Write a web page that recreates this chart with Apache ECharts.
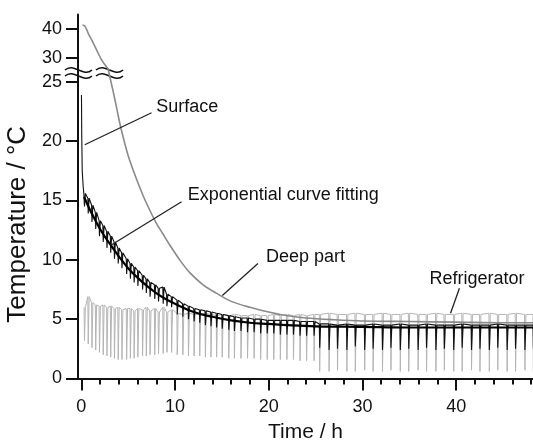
<!DOCTYPE html>
<html>
<head>
<meta charset="utf-8">
<script src="https://cdn.jsdelivr.net/npm/echarts@6/dist/echarts.min.js"></script>
<style>
  html, body { margin: 0; padding: 0; background: #fff; }
  #chart { width: 533px; height: 440px; }
</style>
</head>
<body>
<div id="chart"></div>
<script>
// Deep part (gray) – shown in both the upper (compressed) and lower panel
const deepTime = [0.13, 0.35, 0.6, 0.8, 1.1, 1.44, 1.8, 2.15, 2.6, 3.0, 3.4, 3.8, 4.2, 5.0, 5.8, 6.6, 7.3, 8.0, 8.7, 9.4, 10.5, 11.6, 13.0, 14.4, 16.0, 18.0, 20.0, 21.5, 24.0, 27.0, 30.0, 35.0, 40.0, 45.0, 48.2]
const deepTemp = [41.4, 41.1, 39.6, 38.0, 36.3, 34.0, 31.6, 29.3, 27.2, 25.6, 24.2, 22.7, 21.2, 18.8, 17.0, 15.4, 14.2, 13.1, 12.2, 11.3, 10.0, 8.9, 7.9, 7.2, 6.5, 6.0, 5.6, 5.35, 5.1, 4.95, 4.85, 4.8, 4.75, 4.7, 4.7]

// Exponential curve fitting (black, smooth)
const fitTime = [0.3, 1, 2, 3, 4, 5, 6, 7, 8, 9, 10, 12, 14, 16, 18, 20, 22, 25, 30, 35, 40, 48.2]
const fitTemp = [15.3, 14.1, 12.6, 11.4, 10.3, 9.3, 8.5, 7.8, 7.2, 6.7, 6.3, 5.6, 5.2, 4.9, 4.7, 4.6, 4.5, 4.4, 4.35, 4.3, 4.3, 4.3]

// Surface: initial drop right after loading
const surfStartTime = [0.02, 0.05, 0.1, 0.2, 0.27]
const surfStartTemp = [23.9, 20.5, 17.5, 16.2, 15.6]

// refrigerator cycles (time of each dip) and the levels read per cycle
const cycleTime = [
  0.3, 0.7, 1.1, 1.5, 1.9, 2.3, 2.7, 3.1, 3.5, 3.9, 4.3, 4.8, 5.2, 5.6, 6.0, 6.5, 6.9, 7.3, 7.8, 8.2, 8.7, 9.1, 9.6,
  10.2, 10.8, 11.4, 12.0, 12.6, 13.2, 13.8, 14.4, 15.0, 15.7, 16.3, 17.0, 17.7, 18.4, 19.1, 19.8, 20.5, 21.2, 21.9, 22.6, 23.3, 24.0, 24.8,
  25.4, 26.4, 27.3, 28.3, 29.2, 30.2, 31.1, 32.1, 33.0, 34.0, 34.9, 35.9, 36.8, 37.8, 38.7, 39.7, 40.6, 41.6, 42.5, 43.5, 44.4, 45.4, 46.3, 47.3, 48.2
]
const refrigHigh = [
  6.0, 6.9, 6.4, 6.2, 6.1, 6.2, 6.0, 6.1, 5.9, 6.0, 5.8, 5.9, 5.9, 5.7, 5.9, 5.8, 6.0, 5.7, 5.9, 5.6, 6.0, 5.6, 5.8,
  5.5, 5.4, 5.5, 5.4, 5.4, 5.5, 5.4, 5.3, 5.4, 5.3, 5.4, 5.3, 5.3, 5.4, 5.3, 5.3, 5.4, 5.3, 5.4, 5.3, 5.4, 5.3, 5.4,
  5.4, 5.5, 5.4, 5.4, 5.5, 5.4, 5.4, 5.5, 5.4, 5.4, 5.5, 5.4, 5.4, 5.5, 5.4, 5.4, 5.5, 5.4, 5.4, 5.5, 5.4, 5.4, 5.5, 5.4, 5.4
]
const refrigLow = [
  3.2, 2.9, 2.6, 2.4, 2.2, 2.0, 1.9, 1.8, 1.7, 1.6, 1.6, 1.6, 1.7, 1.7, 1.8, 1.9, 1.9, 2.0, 2.0, 2.1, 2.1, 2.2, 2.2,
  2.0, 2.0, 1.9, 1.9, 1.9, 1.8, 1.8, 1.8, 1.8, 1.7, 1.7, 1.7, 1.7, 1.7, 1.6, 1.6, 1.6, 1.6, 1.6, 1.6, 1.5, 1.5, 1.5,
  0.6, 0.6, 0.7, 0.6, 0.6, 0.7, 0.6, 0.6, 0.7, 0.6, 0.6, 0.7, 0.6, 0.6, 0.7, 0.6, 0.6, 0.7, 0.6, 0.6, 0.7, 0.6, 0.6, 0.7, 0.6
]
const surfHigh = [
  15.6, 15.2, 14.6, 14.0, 13.3, 12.9, 12.4, 12.0, 11.5, 11.0, 10.6, 10.1, 9.7, 9.4, 9.1, 8.7, 8.4, 8.1, 7.9, 7.6, 7.7, 7.1, 6.9,
  6.6, 6.3, 6.1, 5.9, 5.8, 5.7, 5.6, 5.5, 5.4, 5.3, 5.2, 5.1, 5.1, 5.0, 5.0, 4.9, 4.9, 4.9, 4.9, 4.9, 4.8, 4.8, 4.8,
  4.6, 4.6, 4.5, 4.6, 4.5, 4.5, 4.6, 4.5, 4.5, 4.6, 4.5, 4.5, 4.6, 4.5, 4.5, 4.5, 4.6, 4.5, 4.5, 4.5, 4.6, 4.5, 4.5, 4.5, 4.5
]
const surfLow = [
  14.5, 13.9, 13.2, 12.6, 12.0, 11.5, 11.0, 10.6, 10.1, 9.7, 9.3, 8.8, 8.4, 8.1, 7.8, 7.5, 7.2, 6.9, 6.7, 6.5, 6.3, 6.1, 6.0,
  5.4, 5.2, 5.0, 4.8, 4.7, 4.5, 4.4, 4.3, 4.2, 4.1, 4.0, 4.0, 3.9, 3.9, 3.8, 3.8, 3.8, 3.7, 3.7, 3.7, 3.6, 3.6, 3.6,
  2.6, 2.4, 2.5, 2.4, 2.7, 2.4, 2.5, 2.4, 2.6, 2.4, 2.5, 2.4, 2.6, 2.4, 2.5, 2.4, 2.6, 2.4, 2.5, 2.4, 2.6, 2.4, 2.5, 2.4, 2.5
]

// axis ticks
const upperTicks = [30, 40]
const lowerTicks = [0, 5, 10, 15, 20, 25]
const timeTicks = [0, 10, 20, 30, 40]
const timeMinorTicks = [2, 4, 6, 8, 12, 14, 16, 18, 22, 24, 26, 28, 32, 34, 36, 38, 42, 44, 46, 48]

// annotations: label anchor and leader line (from curve to label)
const annoNames = ['Surface', 'Exponential curve fitting', 'Deep part', 'Refrigerator']
const annoLabelAt = [[8.0, 22.9], [11.35, 15.5], [19.7, 10.2], [37.15, 8.4]]
const annoLineFrom = [[0.37, 19.7], [3.2, 11.25], [15.05, 7.0], [39.4, 5.5]]
const annoLineTo = [[7.5, 22.4], [10.7, 14.9], [18.85, 9.7], [40.35, 7.6]]

const FONT = 'Liberation Sans, Arial, sans-serif'
const INK = '#111'

function zip(xs, ys) {
  return xs.map((x, i) => [x, ys[i]])
}

// one dip per cycle: level -> fast drop -> fast recovery
function cycleLine(times, high, low) {
  const pts = []
  times.forEach((t, i) => {
    pts.push([t, high[i]], [t + 0.04, low[i]], [t + 0.14, high[i]])
  })
  return pts
}

const chart = echarts.init(document.getElementById('chart'))

const axisLine = { show: true, onZero: false, lineStyle: { color: INK, width: 2 } }
const labelText = { color: INK, fontFamily: FONT, fontSize: 18 }

const option = {
  animation: false,
  backgroundColor: '#fff',
  grid: [
    { left: 78, right: 0, top: 14.6, height: 54.5, outerBoundsMode: 'none', containLabel: false },
    { left: 78, right: 0, top: 70, height: 308.5, outerBoundsMode: 'none', containLabel: false }
  ],
  xAxis: [
    { type: 'value', gridIndex: 0, min: -0.35, max: 48.2, show: false },
    {
      type: 'value', gridIndex: 1, min: -0.35, max: 48.2,
      axisLine,
      axisTick: { show: true, customValues: timeTicks, length: 12, lineStyle: { color: INK, width: 2 } },
      axisLabel: { customValues: timeTicks, margin: 20, ...labelText },
      splitLine: { show: false },
      name: 'Time / h', nameLocation: 'middle', nameGap: 43,
      nameTextStyle: { color: INK, fontFamily: FONT, fontSize: 21 }
    },
    {
      type: 'value', gridIndex: 1, min: -0.35, max: 48.2, position: 'bottom',
      axisLine: { show: false },
      axisTick: { show: true, customValues: timeMinorTicks, length: 6, lineStyle: { color: INK, width: 2 } },
      axisLabel: { show: false },
      splitLine: { show: false }
    }
  ],
  yAxis: [
    {
      type: 'value', gridIndex: 0, min: 26, max: 45,
      axisLine,
      axisTick: { show: true, customValues: upperTicks, length: 12, lineStyle: { color: INK, width: 2 } },
      axisLabel: { customValues: upperTicks, margin: 16, ...labelText },
      splitLine: { show: false }
    },
    {
      type: 'value', gridIndex: 1, min: 0, max: 26,
      axisLine,
      axisTick: { show: true, customValues: lowerTicks, length: 12, lineStyle: { color: INK, width: 2 } },
      axisLabel: { customValues: lowerTicks, margin: 16, ...labelText },
      splitLine: { show: false },
      name: 'Temperature / °C', nameLocation: 'middle', nameGap: 43,
      nameTextStyle: { color: INK, fontFamily: FONT, fontSize: 26 }
    }
  ],
  series: [
    {
      name: 'Deep part (upper)', type: 'line', xAxisIndex: 0, yAxisIndex: 0,
      data: zip(deepTime, deepTemp), smooth: 0.3, showSymbol: false,
      lineStyle: { color: '#8a8a8a', width: 1.6 }, z: 2
    },
    {
      name: 'Refrigerator', type: 'line', xAxisIndex: 1, yAxisIndex: 1,
      data: cycleLine(cycleTime, refrigHigh, refrigLow), showSymbol: false,
      lineStyle: { color: '#b4b4b4', width: 1 }, z: 1
    },
    {
      name: 'Deep part', type: 'line', xAxisIndex: 1, yAxisIndex: 1,
      data: zip(deepTime, deepTemp), smooth: 0.3, showSymbol: false,
      lineStyle: { color: '#8a8a8a', width: 1.6 }, z: 2
    },
    {
      name: 'Surface', type: 'line', xAxisIndex: 1, yAxisIndex: 1,
      data: zip(surfStartTime, surfStartTemp).concat(cycleLine(cycleTime, surfHigh, surfLow)),
      showSymbol: false,
      lineStyle: { color: '#111', width: 1.1 }, z: 3
    },
    {
      name: 'Exponential curve fitting', type: 'line', xAxisIndex: 1, yAxisIndex: 1,
      data: zip(fitTime, fitTemp), smooth: 0.4, showSymbol: false,
      lineStyle: { color: '#000', width: 2.2 }, z: 4
    },
    {
      name: 'labels', type: 'scatter', xAxisIndex: 1, yAxisIndex: 1,
      symbolSize: 0, silent: true, z: 5,
      itemStyle: { color: '#000', opacity: 1 },
      data: annoNames.map((n, i) => ({ name: n, value: annoLabelAt[i] })),
      label: { show: true, position: 'right', distance: 0, formatter: '{b}', opacity: 1, textBorderWidth: 0, ...labelText },
      markLine: {
        silent: true, symbol: 'none', label: { show: false },
        lineStyle: { color: '#222', width: 1.3, type: 'solid', opacity: 1 },
        data: annoLineFrom.map((p, i) => [{ coord: p }, { coord: annoLineTo[i] }])
      }
    }
  ],
  // axis break marks (≈) across the y axis and the deep-part curve
  graphic: [
    {
      type: 'group', z: 100,
      children: [
        { type: 'bezierCurve', shape: { x1: 64, y1: 73, cpx1: 73, cpy1: 65, cpx2: 83, cpy2: 81, x2: 92, y2: 73 }, style: { stroke: '#fff', lineWidth: 6, fill: null } },
        { type: 'bezierCurve', shape: { x1: 65, y1: 70, cpx1: 74, cpy1: 62, cpx2: 83, cpy2: 78, x2: 92, y2: 70 }, style: { stroke: INK, lineWidth: 1.6, fill: null } },
        { type: 'bezierCurve', shape: { x1: 65, y1: 76, cpx1: 74, cpy1: 68, cpx2: 83, cpy2: 84, x2: 92, y2: 76 }, style: { stroke: INK, lineWidth: 1.6, fill: null } },
        { type: 'bezierCurve', shape: { x1: 95, y1: 73, cpx1: 104, cpy1: 65, cpx2: 114, cpy2: 81, x2: 123, y2: 73 }, style: { stroke: '#fff', lineWidth: 6, fill: null } },
        { type: 'bezierCurve', shape: { x1: 96, y1: 70, cpx1: 105, cpy1: 62, cpx2: 114, cpy2: 78, x2: 123, y2: 70 }, style: { stroke: INK, lineWidth: 1.6, fill: null } },
        { type: 'bezierCurve', shape: { x1: 96, y1: 76, cpx1: 105, cpy1: 68, cpx2: 114, cpy2: 84, x2: 123, y2: 76 }, style: { stroke: INK, lineWidth: 1.6, fill: null } }
      ]
    }
  ]
}

chart.setOption(option)
window.addEventListener('resize', () => chart.resize())
</script>
</body>
</html>
